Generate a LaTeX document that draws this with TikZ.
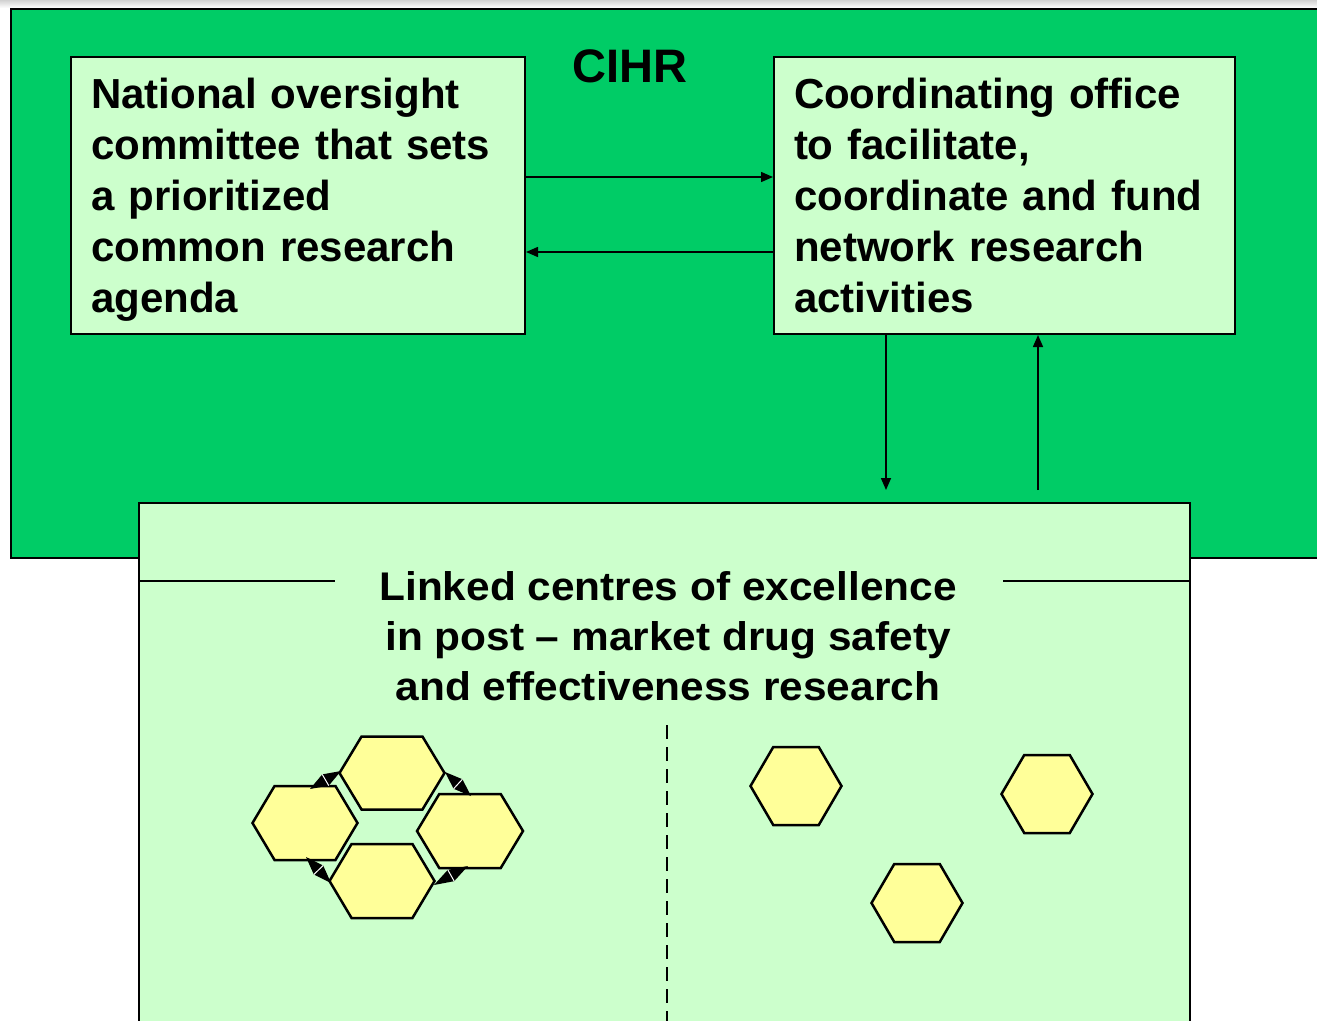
\documentclass[tikz,border=0pt]{standalone}
\usepackage{fontspec}
\setmainfont{Liberation Sans}
\usetikzlibrary{arrows.meta,calc}
\definecolor{cihr}{RGB}{0,204,102}
\definecolor{lgreen}{RGB}{204,255,204}
\definecolor{hexy}{RGB}{255,255,153}
% name, cx, cy, width, height, half-top ratio
\newcommand\hexagon[6]{%
  \path[hexa] (#2-#4/2,#3) -- (#2-#6*#4,#3-#5/2) -- (#2+#6*#4,#3-#5/2) -- (#2+#4/2,#3)
     -- (#2+#6*#4,#3+#5/2) -- (#2-#6*#4,#3+#5/2) -- cycle;
  \coordinate (#1) at (#2,#3);}
% double-headed link drawn as two triangles meeting at their bases
\newcommand\linkarrow[2]{%
  \fill[black] (#1) -- ($(#1)!0.5!(#2)!6.5pt!90:(#2)$) -- (#2) -- ($(#1)!0.5!(#2)!6.5pt!-90:(#2)$) -- cycle;
  \draw[white, line width=1pt] ($(#1)!0.5!(#2)!6.5pt!90:(#2)$) -- ($(#1)!0.5!(#2)!6.5pt!-90:(#2)$);}
\newcommand\firstline{\rule{0pt}{51pt}}
\newcommand\lastline{\rule[-22pt]{0pt}{22pt}}
\begin{document}
\begin{tikzpicture}[x=1pt,y=-1pt,
  txt/.style={font=\fontsize{42}{51}\selectfont\bfseries},
  box/.style={draw, line width=2pt, fill=lgreen, anchor=north west, inner xsep=20pt, inner ysep=0pt, align=left, txt},
  arr/.style={line width=1.5pt, -{Triangle[length=12pt,width=10pt]}},
  hexa/.style={draw, line width=2.5pt, fill=hexy, line join=miter}]
\useasboundingbox (0,0) rectangle (1317,1020);
\fill[top color=black!18, bottom color=white] (0,0) rectangle (1317,8);
\node[draw, line width=2pt, fill=cihr, anchor=north west, minimum width=1340pt, minimum height=549pt, inner sep=0pt] (cihr) at (10,8) {};
\node[font=\fontsize{47}{56}\selectfont\bfseries, anchor=base] (cihrlabel) at (630,82) {CIHR};
\node[box, minimum width=454pt, minimum height=277pt, text width=414pt] (nat) at (70,56)
  {\firstline National oversight\\committee that sets\\a prioritized\\common research\\agenda\lastline};
\node[box, minimum width=461pt, minimum height=277pt, text width=421pt] (coord) at (773,56)
  {\firstline Coordinating office\\to facilitate,\\coordinate and fund\\network research\\activities\lastline};
\draw[arr] (nat.east |- 0,177) -- (coord.west |- 0,177);
\draw[arr] (coord.west |- 0,252) -- (nat.east |- 0,252);
\coordinate (dn) at (886,490);
\coordinate (up) at (1038,490);
\draw[arr] (coord.south -| dn) -- (dn);
\draw[arr] (up) -- (coord.south -| up);
\node[draw, line width=2pt, fill=lgreen, anchor=north west, minimum width=1051pt, minimum height=560pt, inner sep=0pt] (linked) at (138,502) {};
\node[font=\fontsize{40}{50}\selectfont\bfseries, align=center, xscale=1.06, transform shape] (ltitle) at (668,636) {Linked centres of excellence\\in post -- market drug safety\\and effectiveness research};
\coordinate (la) at (335,581);
\coordinate (lb) at (1003,581);
\draw[line width=2pt] (linked.west |- la) -- (la);
\draw[line width=2pt] (lb) -- (linked.east |- lb);
\coordinate (dtop) at (667,725);
\draw[line width=1.5pt, dash pattern=on 14pt off 8pt] (dtop) -- (dtop |- linked.south);
\hexagon{ht}{392}{773}{105}{73}{0.29}
\hexagon{hl}{305}{823}{105}{74}{0.29}
\hexagon{hr}{470}{831}{106}{74}{0.29}
\hexagon{hb}{382}{881}{105}{74}{0.29}
\hexagon{s1}{796}{786}{91}{78}{0.25}
\hexagon{s2}{1047}{794}{91}{78}{0.25}
\hexagon{s3}{917}{903}{91}{78}{0.25}
\coordinate (a1) at (310,789); \coordinate (a2) at (341,771);
\coordinate (b1) at (445,772); \coordinate (b2) at (471,796);
\coordinate (c1) at (306,857); \coordinate (c2) at (331,883);
\coordinate (d1) at (434,885); \coordinate (d2) at (468,866);
\linkarrow{a1}{a2}
\linkarrow{b1}{b2}
\linkarrow{c1}{c2}
\linkarrow{d1}{d2}
\end{tikzpicture}
\end{document}
